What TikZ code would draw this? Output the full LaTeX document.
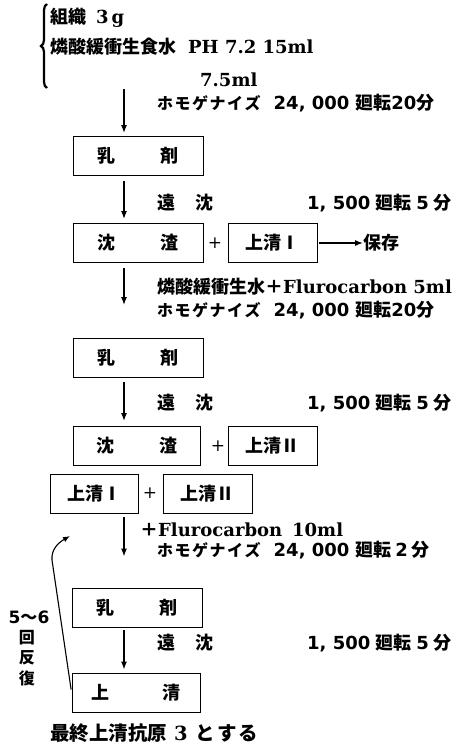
\documentclass[tikz,border=0pt]{standalone}
\usepackage{fontspec}
\setmainfont{DejaVu Serif}
\newfontfamily\cjk{Noto Sans CJK JP}
\newfontfamily\nsans{DejaVu Sans}
\usetikzlibrary{arrows.meta,decorations.pathreplacing}
\newcommand\J[1]{{\cjk\bfseries #1}}
\newcommand\N[1]{{\nsans\bfseries #1}}
\newcommand\Kt{{\fontsize{16}{16}\selectfont\J{ホ\hspace{1.5pt}モ\hspace{1.5pt}ゲ\hspace{1.5pt}ナ\hspace{1.5pt}イ\hspace{1.5pt}ズ}}}
\begin{document}
\begin{tikzpicture}[x=1pt,y=-1pt,
  txt/.style={anchor=west,inner sep=0pt,font=\fontsize{18}{18}\selectfont\bfseries},
  boxn/.style={draw,line width=0.9pt,inner sep=0pt,minimum height=39pt,font=\fontsize{18}{18}\selectfont\bfseries},
  arr/.style={line width=1.3pt,-{Latex[length=8pt,width=6pt]}},
  plusn/.style={inner sep=0pt,font=\fontsize{17}{17}\selectfont}]
\useasboundingbox (0,0) rectangle (455,744);
% header
\draw[line width=2.2pt,decorate,decoration={brace,amplitude=6pt}] (47,88) -- (47,4);
\node[txt] (t1) at (50,18) {\J{組織}\hspace{10pt}3\,g};
\node[txt] (t2) at (50,47) {\J{燐酸緩衝生食水}\hspace{12pt}PH 7.2 15ml};
\node[txt] (t3) at (200,80) {7.5ml};
\coordinate (a0) at (124,89);
\node[txt] (h1) at (157,103) {\Kt\hspace{13pt}\N{24, 000}\hspace{6pt}\J{廻転}\N{20}\J{分}};
% boxes
\node[boxn,minimum width=130pt] (e1) at (138,156) {\J{乳\hspace{45pt}剤}};
\node[txt] (z1) at (157,203) {\J{遠\hspace{20pt}沈}};
\node[txt] (r1) at (307,203) {\N{1, 500}\hspace{5pt}\J{廻転}\hspace{5pt}\N{5}\hspace{5pt}\J{分}};
\node[boxn,minimum width=130pt] (s1) at (138,243) {\J{沈\hspace{45pt}渣}};
\node[plusn] (p1) at (215,243) {+};
\node[boxn,minimum width=89pt] (u1) at (272.5,243) {\J{上清Ⅰ}};
\node[txt] (keep) at (363,243) {\J{保存}};
\node[txt] (f1) at (157,287) {\J{燐酸緩衝生水＋}Flurocarbon 5ml};
\node[txt] (h2) at (157,310) {\Kt\hspace{13pt}\N{24, 000}\hspace{6pt}\J{廻転}\N{20}\J{分}};
\node[boxn,minimum width=130pt] (e2) at (138,358) {\J{乳\hspace{45pt}剤}};
\node[txt] (z2) at (157,403) {\J{遠\hspace{20pt}沈}};
\node[txt] (r2) at (307,403) {\N{1, 500}\hspace{5pt}\J{廻転}\hspace{5pt}\N{5}\hspace{5pt}\J{分}};
\node[boxn,minimum width=127pt] (s2) at (136.5,446) {\J{沈\hspace{45pt}渣}};
\node[plusn] (p2) at (218,446) {+};
\node[boxn,minimum width=89pt] (u2) at (272.5,446) {\J{上清Ⅱ}};
\node[boxn,minimum width=88pt] (ua) at (94,493.5) {\J{上清Ⅰ}};
\node[plusn] (p3) at (150,493) {+};
\node[boxn,minimum width=89pt] (ub) at (207.5,493.5) {\J{上清Ⅱ}};
\node[txt] (f2) at (140,530) {\J{＋}Flurocarbon\hspace{10pt}10ml};
\node[txt] (h3) at (157,550) {\Kt\hspace{13pt}\N{24, 000}\hspace{6pt}\J{廻転}\hspace{4pt}\N{2}\hspace{4pt}\J{分}};
\node[boxn,minimum width=130pt] (e3) at (137,607.5) {\J{乳\hspace{45pt}剤}};
\node[txt] (z3) at (157,643) {\J{遠\hspace{20pt}沈}};
\node[txt] (r3) at (307,643) {\N{1, 500}\hspace{5pt}\J{廻転}\hspace{5pt}\N{5}\hspace{5pt}\J{分}};
\node[boxn,minimum width=128pt] (fin) at (136,692.5) {\J{上\hspace{53pt}清}};
\node[txt,font=\fontsize{19.5}{19.5}\selectfont\bfseries] (last) at (50,733) {\J{最終上清抗原}\hspace{7pt}3\hspace{8pt}\J{と\hspace{2pt}す\hspace{2pt}る}};
% repeat label
\node[inner sep=0pt,font=\fontsize{17}{17}\selectfont] (rep) at (29,617) {\N{5}\J{〜}\N{6}};
\node[inner sep=0pt,align=center,font=\fontsize{16}{20.5}\selectfont] (kai) at (27,658) {\J{回}\\\J{反}\\\J{復}};
% arrows
\draw[arr,shorten >=3pt] (a0) -- (e1.north -| a0);
\draw[arr,shorten <=5pt,shorten >=4pt] (e1.south -| a0) -- (s1.north -| a0);
\draw[arr,shorten <=5pt,shorten >=33pt] (s1.south -| a0) -- (e2.north -| a0);
\draw[arr,shorten <=4pt,shorten >=5pt] (e2.south -| a0) -- (s2.north -| a0);
\draw[arr,shorten <=4pt,shorten >=31pt] (ua.south -| a0) -- (e3.north -| a0);
\draw[arr,shorten <=3pt,shorten >=3pt] (e3.south -| a0) -- (fin.north -| a0);
\draw[line width=1.1pt,-{Latex[length=8pt,width=6pt]},shorten <=2pt] (u1.east) -- (keep.west);
\coordinate (lp) at (52,560);
\coordinate (lt) at (70,536);
\draw[line width=1.1pt,-{Latex[length=7pt,width=5.5pt]},shorten <=3pt] (fin.west) -- (lp) to[out=95,in=210] (lt);
\end{tikzpicture}
\end{document}
